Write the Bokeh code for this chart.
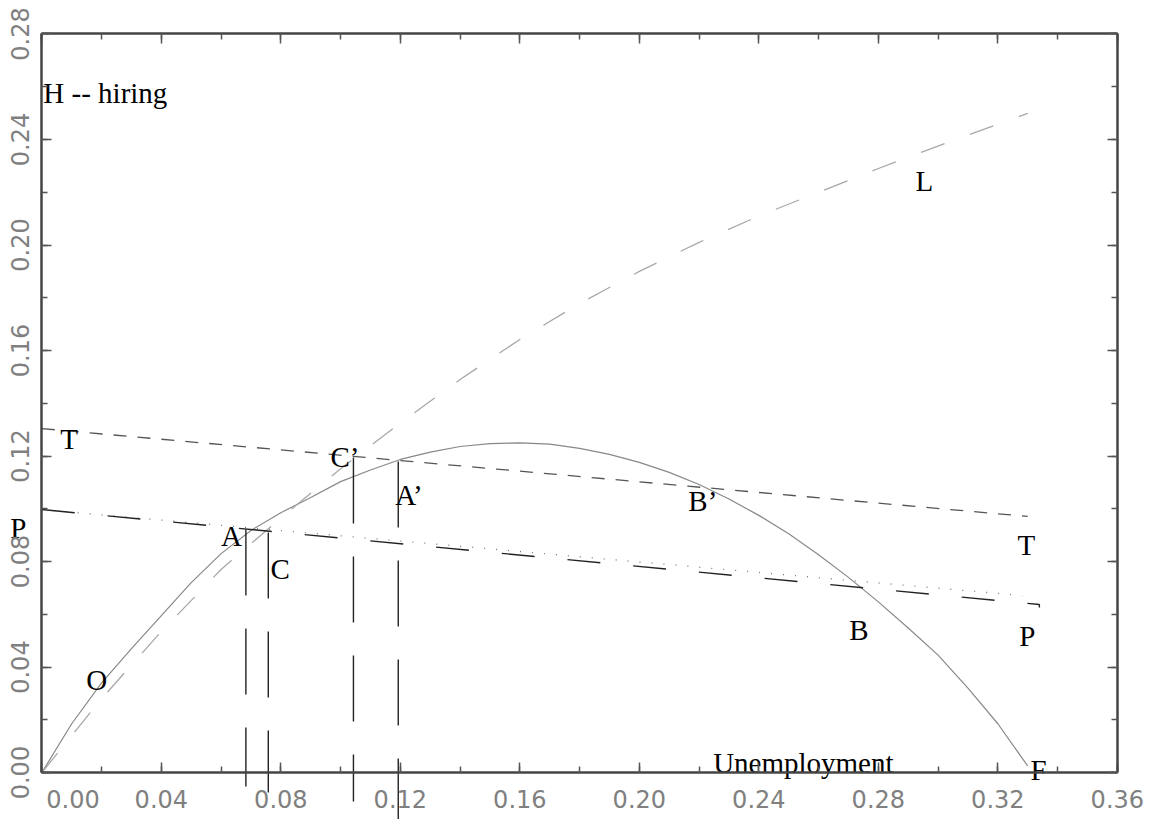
import math
from bokeh.plotting import figure
from bokeh.models import (Range1d, LinearAxis, SingleIntervalTicker, PrintfTickFormatter,
                          ColumnDataSource)
from bokeh.core.properties import value
from bokeh.embed import file_html
from bokeh.resources import INLINE

# ---------------- data ----------------
# hiring function H(u)
u_grid = [0.00, 0.01, 0.02, 0.03, 0.04, 0.05, 0.06, 0.07, 0.08, 0.09, 0.10, 0.11, 0.12,
          0.13, 0.14, 0.15, 0.16, 0.17, 0.18, 0.19, 0.20, 0.21, 0.22, 0.23, 0.24, 0.25,
          0.26, 0.27, 0.28, 0.29, 0.30, 0.31, 0.32, 0.33]
hiring = [0.0000, 0.0185, 0.0340, 0.0470, 0.0595, 0.0720, 0.0830, 0.0918, 0.0985, 0.1043,
          0.1103, 0.1147, 0.1187, 0.1215, 0.1236, 0.1247, 0.1250, 0.1245, 0.1229, 0.1206,
          0.1176, 0.1138, 0.1092, 0.1037, 0.0975, 0.0905, 0.0826, 0.0740, 0.0647, 0.0548,
          0.0445, 0.0320, 0.0185, 0.0025]

# L curve
L_u = [0.00, 0.02, 0.04, 0.06, 0.08, 0.10, 0.12, 0.14, 0.16, 0.18, 0.20, 0.22, 0.24,
       0.26, 0.28, 0.30, 0.32, 0.33]
L_vals = [0.0000, 0.0280, 0.0535, 0.0770, 0.0965, 0.1152, 0.1325, 0.1490, 0.1642, 0.1778,
          0.1900, 0.2010, 0.2110, 0.2200, 0.2290, 0.2375, 0.2458, 0.2499]

# T line
T_u = [0.000, 0.330]
T_vals = [0.1304, 0.0971]

# P lines (dashed and dotted)
P_u = [0.000, 0.3339, 0.3339]
P_vals = [0.0997, 0.0637, 0.0626]
Pdot_u = [0.000, 0.3282]
Pdot_vals = [0.0997, 0.0671]

# vertical drop lines at A, C, C', A'
drop_x = [0.0683, 0.0758, 0.1043, 0.1193]
drop_top = [0.0921, 0.0910, 0.1194, 0.1179]
drop_bottom = [-0.0053, -0.0076, -0.0110, -0.0178]

# text labels
lab_text = ["H -- hiring", "T", "P", "A", "C", "C\u2019", "A\u2019", "O", "B\u2019", "B",
            "T", "P", "L", "Unemployment", "F"]
lab_x = [0.0005, 0.0062, -0.0106, 0.0600, 0.0765, 0.0966, 0.1183, 0.0149, 0.2164, 0.2703,
         0.3266, 0.3272, 0.2924, 0.2247, 0.3309]
lab_y = [0.2578, 0.1263, 0.0929, 0.0895, 0.0773, 0.1198, 0.1054, 0.0349, 0.1031, 0.0542,
         0.0864, 0.0516, 0.2241, 0.0038, 0.0011]

x_lo, x_hi = 0.0, 0.36
y_lo, y_hi = 0.0, 0.28
x_ticks_step = 0.04
y_ticks_step = 0.04

# ---------------- figure ----------------
p = figure(frame_width=1146, frame_height=814,
           x_range=Range1d(-0.0125, 0.3711), y_range=Range1d(-0.0178, 0.2908),
           output_backend="svg", toolbar_location=None,
           min_border_left=4, min_border_right=2, min_border_top=5, min_border_bottom=0)
p.grid.visible = False
p.outline_line_color = None
p.background_fill_color = "white"
p.border_fill_color = "white"

p.add_layout(LinearAxis(), "above")
p.add_layout(LinearAxis(), "right")

def style_axis(ax, step, bounds):
    ax.ticker = SingleIntervalTicker(interval=step, num_minor_ticks=2)
    ax.bounds = bounds
    ax.axis_line_color = "#444444"
    ax.axis_line_width = 2.5
    ax.major_tick_line_color = "#555555"
    ax.minor_tick_line_color = "#555555"
    ax.major_tick_line_width = 1.5
    ax.minor_tick_line_width = 1.5
    ax.major_tick_in = 10
    ax.major_tick_out = 0
    ax.minor_tick_in = 6
    ax.minor_tick_out = 0
    ax.formatter = PrintfTickFormatter(format="%.2f")
    ax.major_label_text_font = "DejaVu Sans"
    ax.major_label_text_font_size = "24px"
    ax.major_label_text_color = "#808080"

for ax in p.xaxis:
    style_axis(ax, x_ticks_step, (x_lo, x_hi))
for ax in p.yaxis:
    style_axis(ax, y_ticks_step, (y_lo, y_hi))

bottom = p.below[0]
bottom.fixed_location = y_lo
bottom.major_label_standoff = 13
bottom.major_label_overrides = {0: "\u00a0" * 6 + "0.00"}
left = p.left[0]
left.fixed_location = x_lo
left.major_label_orientation = "parallel"
left.major_label_standoff = 13

top = p.above[0]
top.fixed_location = y_hi
right = p.right[0]
right.fixed_location = x_hi
for ax in (top, right):
    ax.major_label_text_font_size = "0px"
    ax.major_label_text_alpha = 0
    ax.major_label_standoff = 0

# curves
p.line(u_grid, hiring, line_color="#888888", line_width=1.2)
p.line(L_u, L_vals, line_color="#a8a8a8", line_width=1.3, line_dash="25 27")
p.line(T_u, T_vals, line_color="#555555", line_width=1.3, line_dash="13 11")
p.line(Pdot_u, Pdot_vals, line_color="#777777", line_width=1.3, line_dash="1 11")
p.line(P_u, P_vals, line_color="#222222", line_width=1.4, line_dash="33 33")

# vertical drop lines (extend below the axis)
vsrc = ColumnDataSource(dict(x=drop_x, top=drop_top, bottom=drop_bottom))
p.segment(x0="x", y0="top", x1="x", y1="bottom", source=vsrc, line_color="#222222",
          line_width=1.4, line_dash="66 33")

# labels
lsrc = ColumnDataSource(dict(x=lab_x, y=lab_y, t=lab_text))
p.text(x="x", y="y", text="t", source=lsrc, text_font=value("Liberation Serif"),
       text_font_size="29px", text_color="black", text_align="left",
       text_baseline="alphabetic")

open("out.html", "w").write(file_html(p, INLINE))
